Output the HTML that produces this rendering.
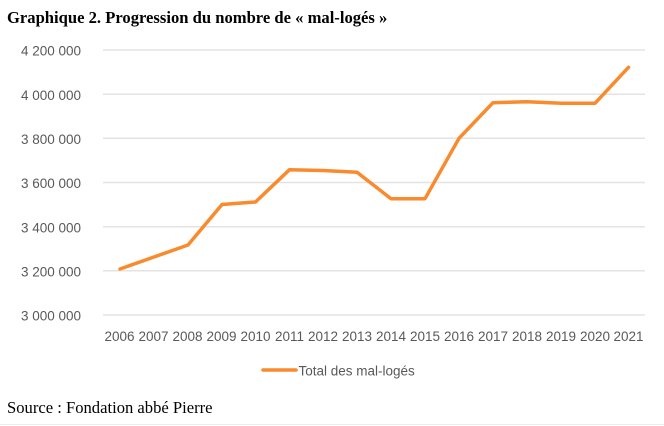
<!DOCTYPE html>
<html>
<head>
<meta charset="utf-8">
<style>
html,body{margin:0;padding:0;background:#fff;}
body{width:664px;height:426px;overflow:hidden;position:relative;}
svg{position:absolute;left:0;top:0;}
</style>
</head>
<body>
<svg width="664" height="426" viewBox="0 0 664 426" xmlns="http://www.w3.org/2000/svg">
  <text x="7" y="23" font-family="Liberation Serif, serif" font-weight="bold" font-size="16.6" fill="#000">Graphique 2. Progression du nombre de « mal-logés »</text>
  <g stroke="#E3E3E3" stroke-width="1.5">
    <line x1="103" y1="50" x2="645" y2="50"/>
    <line x1="103" y1="94.2" x2="645" y2="94.2"/>
    <line x1="103" y1="138.3" x2="645" y2="138.3"/>
    <line x1="103" y1="182.5" x2="645" y2="182.5"/>
    <line x1="103" y1="226.7" x2="645" y2="226.7"/>
    <line x1="103" y1="270.8" x2="645" y2="270.8"/>
    <line x1="103" y1="315" x2="645" y2="315"/>
  </g>
  <g font-family="Liberation Sans, sans-serif" font-size="13.5" fill="#595959" text-anchor="end">
    <text x="81" y="55.7">4 200 000</text>
    <text x="81" y="99.9">4 000 000</text>
    <text x="81" y="144">3 800 000</text>
    <text x="81" y="188.2">3 600 000</text>
    <text x="81" y="232.4">3 400 000</text>
    <text x="81" y="276.5">3 200 000</text>
    <text x="81" y="320.7">3 000 000</text>
  </g>
  <g font-family="Liberation Sans, sans-serif" font-size="13.5" fill="#595959" text-anchor="middle">
    <text x="119.5" y="341">2006</text>
    <text x="153.5" y="341">2007</text>
    <text x="187.5" y="341">2008</text>
    <text x="221.5" y="341">2009</text>
    <text x="255.5" y="341">2010</text>
    <text x="289.5" y="341">2011</text>
    <text x="323" y="341">2012</text>
    <text x="357" y="341">2013</text>
    <text x="391" y="341">2014</text>
    <text x="425" y="341">2015</text>
    <text x="459" y="341">2016</text>
    <text x="493" y="341">2017</text>
    <text x="527" y="341">2018</text>
    <text x="561" y="341">2019</text>
    <text x="595" y="341">2020</text>
    <text x="628.5" y="341">2021</text>
  </g>
  <polyline fill="none" stroke="#FA8A2E" stroke-width="3.5" stroke-linejoin="round" stroke-linecap="round"
    points="120,269 154,257 188,245 222,204.5 255.5,202 289.5,169.7 323,170.5 357,172.3 391,198.7 425,198.7 459,138.3 493,102.7 527,101.7 561.5,103.3 595,103.3 628.5,67.3"/>
  <line x1="263" y1="370" x2="296" y2="370" stroke="#FA8A2E" stroke-width="3.5" stroke-linecap="round"/>
  <text x="298.5" y="375.5" font-family="Liberation Sans, sans-serif" font-size="13.5" fill="#595959">Total des mal-logés</text>
  <text x="7" y="413" font-family="Liberation Serif, serif" font-size="16.6" fill="#000">Source : Fondation abbé Pierre</text>
  <line x1="0" y1="424.5" x2="664" y2="424.5" stroke="#EEEEEE" stroke-width="1"/>
</svg>
</body>
</html>
